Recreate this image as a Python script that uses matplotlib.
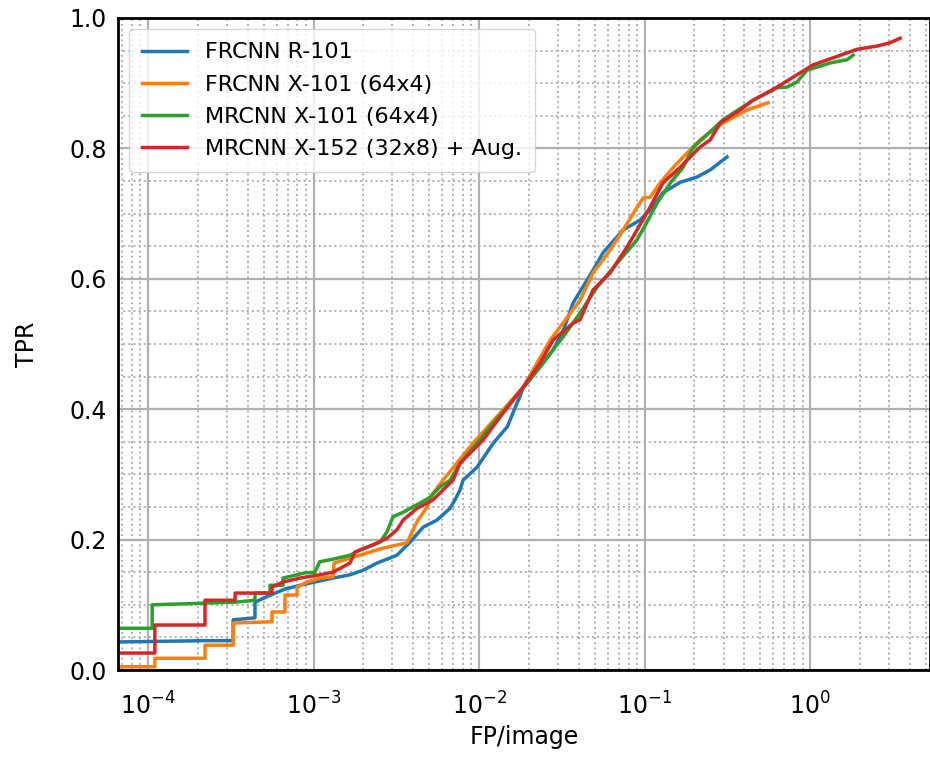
import numpy as np
import matplotlib
matplotlib.use("Agg")
import matplotlib.pyplot as plt
from matplotlib.ticker import LogLocator, MultipleLocator

# FP/image vs TPR
# (a repeated x value marks a vertical jump in the low-FP staircase)
frcnn_r101_fp = [6.59e-5, 2.2e-4, 3.27e-4, 3.27e-4, 4.43e-4, 4.43e-4, 5.5e-4, 6.7e-4, 8.3e-4,
                 1.02e-3, 1.31e-3, 1.66e-3, 1.99e-3, 2.42e-3, 3.19e-3, 3.83e-3, 4.59e-3,
                 5.57e-3, 6.68e-3, 7.16e-3, 7.67e-3, 8.0e-3, 9.72e-3, 1.22e-2, 1.48e-2, 1.70e-2,
                 1.77e-2, 1.85e-2, 1.95e-2, 2.34e-2, 2.80e-2, 3.22e-2, 3.70e-2, 4.88e-2, 5.61e-2,
                 7.42e-2, 9.39e-2, 0.112, 0.129, 0.164, 0.207, 0.249, 0.315]
frcnn_r101_tpr = [0.043, 0.045, 0.045, 0.077, 0.080, 0.104, 0.115, 0.124, 0.130,
                  0.135, 0.141, 0.146, 0.153, 0.164, 0.176, 0.196, 0.219,
                  0.230, 0.248, 0.261, 0.276, 0.291, 0.311, 0.348, 0.373, 0.410,
                  0.420, 0.434, 0.440, 0.465, 0.491, 0.520, 0.563, 0.613, 0.640,
                  0.675, 0.690, 0.710, 0.732, 0.748, 0.756, 0.767, 0.787]

frcnn_x101_fp = [6.59e-5, 1.1e-4, 1.1e-4, 2.21e-4, 2.21e-4, 3.27e-4, 3.27e-4, 5.61e-4, 5.61e-4,
                 6.72e-4, 6.72e-4, 7.95e-4, 7.95e-4, 9.13e-4, 1.09e-3, 1.31e-3, 1.33e-3, 1.73e-3,
                 2.63e-3, 3.67e-3, 3.99e-3, 4.28e-3, 4.85e-3, 5.27e-3, 6.05e-3, 9.2e-3, 1.34e-2,
                 1.85e-2, 2.69e-2, 4.07e-2, 4.88e-2, 6.19e-2, 7.42e-2, 9.01e-2, 9.8e-2, 0.108,
                 0.124, 0.149, 0.181, 0.216, 0.298, 0.416, 0.557]
frcnn_x101_tpr = [0.005, 0.005, 0.018, 0.018, 0.038, 0.038, 0.072, 0.074, 0.089,
                  0.089, 0.115, 0.115, 0.127, 0.135, 0.141, 0.143, 0.164, 0.173,
                  0.187, 0.195, 0.215, 0.230, 0.250, 0.271, 0.291, 0.348, 0.394,
                  0.434, 0.506, 0.567, 0.609, 0.644, 0.675, 0.710, 0.724, 0.725,
                  0.747, 0.771, 0.793, 0.813, 0.839, 0.859, 0.870]

mrcnn_x101_fp = [6.59e-5, 1.06e-4, 1.06e-4, 3.36e-4, 4.43e-4, 4.43e-4, 5.46e-4, 5.46e-4, 6.54e-4,
                 6.54e-4, 8.88e-4, 1.02e-3, 1.09e-3, 1.31e-3, 1.66e-3, 1.91e-3, 2.52e-3, 2.78e-3,
                 3.02e-3, 3.48e-3, 4.40e-3, 5.06e-3, 5.81e-3, 6.68e-3, 7.67e-3, 1.01e-2, 1.22e-2,
                 1.48e-2, 1.95e-2, 2.34e-2, 2.80e-2, 3.22e-2, 3.91e-2, 5.16e-2, 6.82e-2, 9.01e-2,
                 0.103, 0.119, 0.143, 0.171, 0.196, 0.298, 0.453, 0.632, 0.726, 0.834, 0.959,
                 1.32, 1.67, 1.82]
mrcnn_x101_tpr = [0.064, 0.064, 0.100, 0.104, 0.107, 0.118, 0.118, 0.130, 0.130,
                  0.141, 0.149, 0.150, 0.166, 0.170, 0.176, 0.184, 0.196, 0.212,
                  0.235, 0.242, 0.256, 0.265, 0.281, 0.291, 0.317, 0.353, 0.379,
                  0.403, 0.440, 0.465, 0.491, 0.511, 0.541, 0.587, 0.624, 0.660,
                  0.686, 0.716, 0.747, 0.771, 0.801, 0.844, 0.874, 0.893, 0.894, 0.902, 0.920,
                  0.931, 0.936, 0.943]

mrcnn_x152_fp = [6.59e-5, 1.1e-4, 1.1e-4, 2.21e-4, 2.21e-4, 3.36e-4, 3.36e-4, 5.61e-4, 5.61e-4,
                 6.54e-4, 8.28e-4, 1.09e-3, 1.31e-3, 1.66e-3, 1.78e-3, 2.29e-3, 2.78e-3, 3.19e-3,
                 3.48e-3, 4.22e-3, 5.27e-3, 6.05e-3, 6.96e-3, 7.67e-3, 1.06e-2, 1.34e-2, 1.85e-2,
                 2.34e-2, 2.80e-2, 3.70e-2, 4.07e-2, 4.88e-2, 6.19e-2, 7.84e-2, 9.01e-2, 0.108,
                 0.129, 0.164, 0.216, 0.249, 0.286, 0.378, 0.453, 0.632, 0.834, 1.04, 1.38,
                 1.92, 2.54, 3.04, 3.50]
mrcnn_x152_tpr = [0.026, 0.026, 0.069, 0.069, 0.107, 0.107, 0.118, 0.118, 0.127,
                  0.135, 0.141, 0.146, 0.150, 0.164, 0.181, 0.192, 0.202, 0.215,
                  0.230, 0.248, 0.261, 0.276, 0.291, 0.317, 0.353, 0.388, 0.434,
                  0.471, 0.506, 0.532, 0.537, 0.583, 0.609, 0.649, 0.675, 0.710,
                  0.747, 0.771, 0.802, 0.813, 0.839, 0.859, 0.874, 0.894, 0.913, 0.928, 0.939,
                  0.952, 0.957, 0.962, 0.969]

labels = ['FRCNN R-101', 'FRCNN X-101 (64x4)', 'MRCNN X-101 (64x4)', 'MRCNN X-152 (32x8) + Aug.']
colors = ['#1f77b4', '#ff7f0e', '#2ca02c', '#d62728']

fig = plt.figure(figsize=(9.3, 7.58), dpi=100)
ax = fig.add_axes([118/930, 1 - 670/758, 812/930, 652/758])

series = [(frcnn_r101_fp, frcnn_r101_tpr), (frcnn_x101_fp, frcnn_x101_tpr),
          (mrcnn_x101_fp, mrcnn_x101_tpr), (mrcnn_x152_fp, mrcnn_x152_tpr)]
for (fp, tpr), lab, c in zip(series, labels, colors):
    ax.plot(fp, tpr, color=c, lw=2.5, label=lab)

ax.set_xscale('log')
ax.set_xlim(6.59e-5, 5.3)
ax.set_ylim(0, 1)
ax.yaxis.set_major_locator(MultipleLocator(0.2))
ax.yaxis.set_minor_locator(MultipleLocator(0.05))
ax.xaxis.set_minor_locator(LogLocator(base=10, subs=np.arange(2, 10)))
ax.xaxis.set_minor_formatter(plt.NullFormatter())

ax.grid(which='major', color='#b0b0b0', lw=1.6, ls='-')
ax.grid(which='minor', color='#b0b0b0', lw=1.4, ls=':')
ax.set_axisbelow(True)

ax.tick_params(which='both', length=0, labelsize=17)
ax.tick_params(axis='x', pad=16)
ax.tick_params(axis='y', pad=8)
for s in ax.spines.values():
    s.set_linewidth(2)

ax.set_xlabel('FP/image', fontsize=17, labelpad=4)
ax.set_ylabel('TPR', fontsize=17, labelpad=22)

ax.legend(loc='upper left', fontsize=16, framealpha=0.8, borderpad=0.6,
          handlelength=2.0, labelspacing=0.55)

fig.savefig('out.png', dpi=100)
